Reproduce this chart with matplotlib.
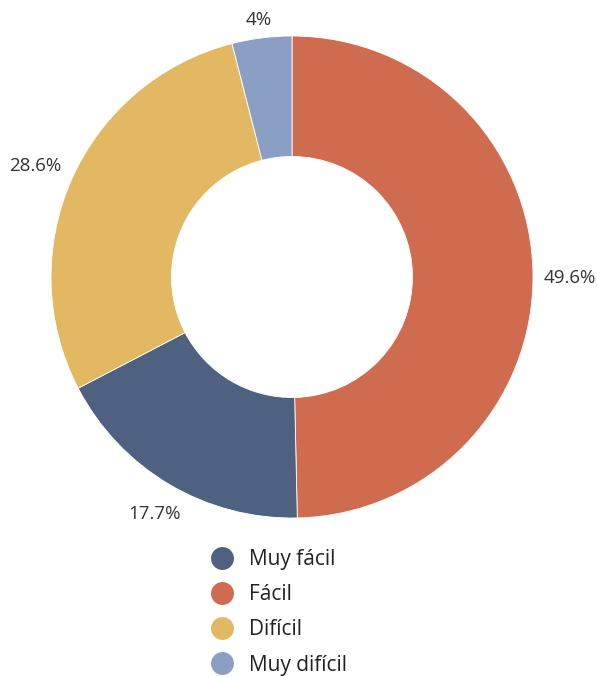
import matplotlib
matplotlib.use("Agg")
import matplotlib.pyplot as plt
from matplotlib.lines import Line2D
import numpy as np

categories = ["Fácil", "Muy fácil", "Difícil", "Muy difícil"]
values = [49.6, 17.7, 28.6, 4.0]
labels = ["49.6%", "17.7%", "28.6%", "4%"]
colors = ["#CF6B4F", "#4E6180", "#E2B962", "#8B9FC5"]
legend_order = ["Muy fácil", "Fácil", "Difícil", "Muy difícil"]

W, H = 597, 677
fig = plt.figure(figsize=(W / 100, H / 100), dpi=100)
cx, cy, R = 292, 277, 241
ax = fig.add_axes([(cx - R) / W, (H - cy - R) / H, 2 * R / W, 2 * R / H])

wedges, _ = ax.pie(values, colors=colors, startangle=90, counterclock=False,
                   radius=1, wedgeprops=dict(width=0.5, edgecolor="white", linewidth=0.6))
ax.set_xlim(-1, 1)
ax.set_ylim(-1, 1)
ax.axis("off")

fig.canvas.draw()
renderer = fig.canvas.get_renderer()
for w, lab in zip(wedges, labels):
    ang = np.deg2rad((w.theta1 + w.theta2) / 2)
    c, s = np.cos(ang), np.sin(ang)
    t = ax.text(0, 0, lab, ha="center", va="center", fontsize=13.5,
                family="Open Sans", color="#333333", clip_on=False)
    bb = t.get_window_extent(renderer)
    hw, hh = bb.width / 2 / R, bb.height / 2 / R
    cand = []
    if abs(c) > 1e-6:
        cand.append(hw / abs(c))
    if abs(s) > 1e-6:
        cand.append(hh / abs(s))
    d = 1.045 + min(cand) + 0.08 * abs(c * s)
    t.set_position((d * c, d * s - 4 / R))

name_to_color = dict(zip(categories, colors))
handles = [Line2D([], [], marker="o", linestyle="none", markersize=16.5,
                  markerfacecolor=name_to_color[n], markeredgecolor="none")
           for n in legend_order]
leg = fig.legend(handles, legend_order, loc="upper left",
                 bbox_to_anchor=(209 / W, 1 - 549 / H), frameon=False,
                 prop=dict(family="Open Sans", size=15), handletextpad=0.72,
                 labelspacing=0.68, handlelength=1.2, borderpad=0, borderaxespad=0)
for txt in leg.get_texts():
    txt.set_color("#222222")

fig.savefig("out.png", dpi=100)
